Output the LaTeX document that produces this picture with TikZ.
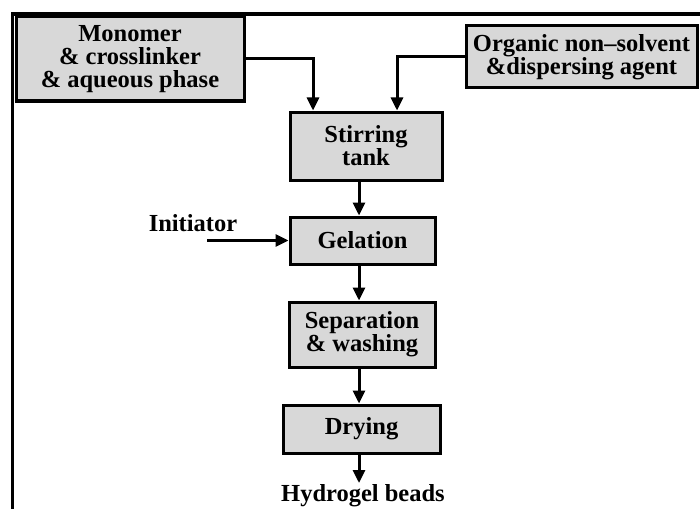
\documentclass[tikz,border=0pt]{standalone}
\usepackage{fontspec}
\setmainfont{Liberation Serif}
\usetikzlibrary{arrows.meta,calc}
\begin{document}
\begin{tikzpicture}[x=1pt,y=-1pt,
  box/.style={draw=black,line width=3pt,fill=boxgray,inner sep=0pt,align=center,
    font=\fontsize{24.5}{23}\selectfont\bfseries},
  lbl/.style={inner sep=0pt,font=\fontsize{24.5}{23}\selectfont\bfseries},
  arr/.style={line width=3pt,-{Triangle[length=13pt,width=12pt]}}]
\definecolor{boxgray}{HTML}{D8D8D8}
\clip (0,0) rectangle (700,508);
\fill[white] (0,0) rectangle (700,508);
% frame
\draw[line width=3.5pt] (702,14) -- (12.5,14) -- (12.5,512);
% boxes
\node[box,minimum width=228pt,minimum height=84pt] (mono) at (130,59)
  {Monomer\\\& crosslinker\\\& aqueous phase};
\node[box,minimum width=231pt,minimum height=62pt] (org) at (581.5,57)
  {Organic non--solvent\\\&dispersing agent};
\node[box,minimum width=152pt,minimum height=68pt] (stir) at (366,146)
  {Stirring\\tank};
\node[box,minimum width=145pt,minimum height=47pt] (gel) at (362.5,240.5)
  {Gelation};
\node[box,minimum width=146pt,minimum height=65pt] (sep) at (362,334.5)
  {Separation\\\& washing};
\node[box,minimum width=157pt,minimum height=48pt] (dry) at (361.5,429)
  {Drying};
\node[lbl] (init) at (193,223) {Initiator};
\node[lbl,anchor=base] (hyd) at (363,501.5) {Hydrogel beads};
% helper coordinates
\coordinate (ax) at (359,0);
\coordinate (ini) at (207,240.5);
\coordinate (hend) at (359,483);
\coordinate (m) at (313,0);
\coordinate (o) at (397,0);
% connectors
\draw[arr] (mono.east) -| (stir.north -| m);
\draw[arr] (org.west) -| (stir.north -| o);
\draw[arr] (stir.south -| ax) -- (gel.north -| ax);
\draw[arr] (ini) -- (gel.west);
\draw[arr] (gel.south -| ax) -- (sep.north -| ax);
\draw[arr] (sep.south -| ax) -- (dry.north -| ax);
\draw[arr] (dry.south -| ax) -- (hend);
\end{tikzpicture}
\end{document}
